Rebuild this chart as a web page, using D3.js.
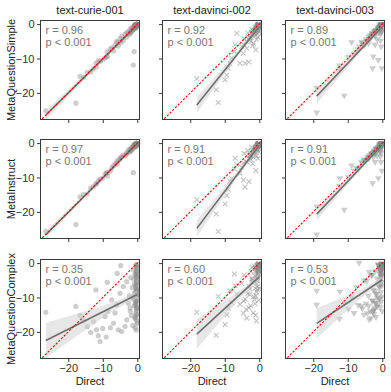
<!DOCTYPE html>
<html><head><meta charset="utf-8">
<script src="https://cdn.jsdelivr.net/npm/d3@7"></script>
<style>body{margin:0;background:#fff}svg{display:block}text{font-family:"Liberation Sans",Arial,sans-serif}</style>
</head><body><svg id="c" width="391" height="392"></svg>
<script>
const models = ["text-curie-001","text-davinci-002","text-davinci-003"];
const prompts = ["MetaQuestionSimple","MetaInstruct","MetaQuestionComplex"];
const xTicks = [-20,-10,0];
const yTicks = [0,-10,-20];
const rLabels = [["0.96","0.92","0.89"],["0.97","0.91","0.91"],["0.35","0.60","0.53"]];
const pLabel = "p < 0.001";
const xLabel = "Direct";

// text-curie-001
const curieDirect = [-26.5,-17.8,-16.6,-15.6,-12.7,-12.0,-11.8,-11.3,-10.8,-9.35,-8.7,-8.6,-7.4,-6.9,-6.45,-5.95,-5.8,-5.5,-5.0,-4.8,-4.5,-4.05,-3.55,-3.05,-3.05,-2.6,-2.3,-2.1,-1.9,-1.7,-1.5,-1.3,-1.15,-1.1,-0.9,-0.8,-0.7,-0.6,-0.5,-0.45,-0.4,-0.35,-0.3,-0.25,-0.2,-0.15,-0.1,-0.08,-0.05,-0.03,-0.6,-1.0,-1.4,-2.0,-0.2,-0.12,-0.35,-0.55,-0.75,-0.02,
 -0.05,-0.1,-0.15,-0.2,-0.25,-0.3,-0.02,-0.08,-0.12,-0.18,-0.4,-0.5,-0.6,-0.7,-0.9,-0.03,-0.06,-0.09,-0.14,-0.22,-0.28,-0.33,-0.45,-0.01,-0.04,-0.07,-0.11,-0.16,-0.24,-0.38,
 -14.5,-13.5,-10.0,-9.0,-7.8];
const curieSimple = [-25.2,-23.0,-15.2,-15.5,-13.0,-11.4,-12.4,-10.6,-10.9,-9.8,-8.1,-9.4,-6.9,-7.8,-6.2,-5.0,-5.3,-6.4,-4.2,-5.4,-3.6,-4.8,-3.0,-2.5,-3.8,-2.3,-3.0,-1.5,-2.4,-1.2,-2.0,-0.9,-11.9,-1.6,-8.0,-0.5,-1.3,-0.3,-0.9,-0.2,-0.6,-0.1,-0.4,-0.7,-0.2,-0.05,-0.3,-0.1,-0.2,-0.02,-1.0,-0.6,-1.8,-2.6,-0.5,-0.15,-0.8,-0.35,-0.15,-0.4,
 -0.1,-0.3,-0.2,-0.5,-0.15,-0.6,-0.05,-0.25,-0.4,-0.1,-0.8,-0.3,-1.1,-0.4,-1.3,-0.2,-0.1,-0.35,-0.5,-0.15,-0.7,-0.25,-0.6,-0.05,-0.3,-0.2,-0.45,-0.1,-0.55,-0.9,
 -14.0,-13.9,-10.4,-9.5,-7.3];
const curieInstruct = [-25.7,-23.7,-15.6,-15.0,-12.6,-11.8,-11.9,-11.0,-10.5,-9.0,-8.5,-9.6,-7.2,-6.6,-6.0,-5.4,-6.1,-4.9,-4.6,-4.2,-4.0,-3.5,-3.7,-2.8,-3.1,-2.0,-2.6,-1.8,-2.2,-1.4,-1.1,-1.6,-8.6,-1.0,-0.6,-1.2,-0.8,-0.4,-0.7,-0.3,-0.5,-0.2,-0.1,-0.6,-0.3,-0.1,-0.2,-0.05,-0.1,-0.1,-0.9,-0.5,-1.9,-2.4,-0.4,-0.3,-1.0,-0.2,-0.4,-0.2,
 -0.2,-0.15,-0.3,-0.4,-0.1,-0.5,-0.1,-0.2,-0.35,-0.25,-0.6,-0.7,-0.9,-0.5,-1.1,-0.1,-0.2,-0.3,-0.4,-0.3,-0.5,-0.4,-0.7,-0.1,-0.15,-0.25,-0.3,-0.2,-0.45,-0.6,
 -14.8,-13.1,-10.2,-8.7,-8.1];
const curieComplex = [-14.3,-12.6,-15.2,-16.7,-17.0,-7.8,-19.4,-21.1,-22.8,-15.5,-5.6,-14.1,-10.7,-17.5,-14.5,-12.1,-3.0,-19.4,-8.8,-0.75,-19.9,-6.8,-18.4,-16.5,-5.4,-11.7,-9.5,-13.0,-4.2,-15.3,-7.1,-18.2,-10.5,-2.0,-12.4,-6.0,-16.0,-8.3,-3.6,-14.6,-11.0,-1.2,-19.5,-9.0,-5.1,-13.7,-7.6,-0.4,-17.1,-10.2,-12.0,-4.7,-9.9,-14.0,-2.8,-6.5,-11.6,-15.8,-8.7,-3.1,
 -1.5,-4.0,-7.9,-12.8,-16.4,-2.5,-9.4,-5.8,-14.9,-0.9,-11.3,-6.9,-18.8,-3.3,-10.0,-13.1,-8.0,-2.2,-15.1,-4.4,-7.4,-12.3,-0.6,-9.1,-17.6,-5.3,-11.0,-3.9,-13.4,-6.3,
 -18.5,-20.2,-19.0,-21.5,-18.8];

// text-davinci-002
const dv2Direct = [-18.1,-12.5,-11.9,-9.9,-9.4,-9.0,-8.5,-8.0,-7.2,-7.0,-6.5,-5.6,-5.1,-4.6,-4.1,-3.6,-3.0,-2.7,-2.4,-2.1,-1.9,-1.7,-1.5,-1.3,-1.1,-1.0,-0.9,-0.8,-0.7,-0.6,-0.5,-0.45,-0.4,-0.35,-0.3,-0.25,-0.2,-0.15,-0.1,-0.08,-0.05,-0.03,-0.02,-0.6,-1.2,-2.2,-3.3,-0.15,-0.3,-4.4,
 -0.05,-0.1,-0.2,-0.3,-0.4,-0.5,-0.7,-0.9,-1.2,-1.6,-2.0,-2.5,-0.15,-0.25,-0.35,-0.6,-0.8,-1.0,-1.4,-1.8,-3.0,-3.8,-0.02,-0.08,-0.12,-0.45,-0.55,-2.8,-4.5,-1.1];
const dv2Simple = [-15.9,-19.1,-22.8,-16.2,-14.8,-12.8,-11.5,-9.9,-8.0,-6.0,-2.7,-11.4,-6.5,-8.5,-11.4,-7.0,-11.0,-4.0,-5.0,-2.5,-6.3,-5.6,-1.8,-3.4,-2.2,-7.5,-1.2,-4.5,-0.8,-2.8,-0.5,-1.5,-0.3,-3.8,-0.9,-0.2,-1.9,-0.1,-0.6,-0.05,-1.0,-0.2,-0.4,-0.3,-0.8,-1.5,-2.6,-2.4,-0.05,-4.2,
 -0.1,-0.4,-0.3,-0.8,-0.6,-1.2,-0.9,-1.5,-2.0,-2.4,-3.2,-3.6,-0.2,-0.5,-0.7,-1.0,-1.8,-1.3,-2.8,-2.1,-4.6,-5.0,-0.05,-0.3,-0.2,-0.9,-0.6,-3.9,-6.0,-1.6];
const dv2Instruct = [-16.5,-20.6,-25.7,-17.7,-15.2,-13.5,-11.2,-10.3,-7.5,-4.4,-6.2,-8.8,-7.0,-10.7,-12.8,-5.5,-11.2,-3.6,-4.8,-3.0,-6.0,-4.1,-2.2,-2.6,-1.5,-8.0,-1.0,-3.8,-0.9,-2.0,-0.6,-1.8,-0.4,-4.5,-0.7,-0.2,-1.3,-0.3,-0.5,-0.1,-0.8,-0.15,-0.3,-0.35,-1.4,-1.2,-2.2,-2.6,-0.1,-3.0,
 -0.2,-0.3,-0.5,-0.6,-0.9,-1.0,-1.2,-1.3,-1.8,-2.6,-2.9,-3.3,-0.1,-0.4,-0.8,-0.7,-1.5,-1.6,-2.3,-2.5,-4.2,-5.4,-0.1,-0.2,-0.3,-0.6,-1.1,-3.6,-5.8,-2.0];
const dv2Complex = [-14.3,-21.0,-9.7,-17.9,-15.0,-13.1,-8.0,-11.5,-3.2,-6.5,-9.0,-12.0,-5.9,-14.6,-10.5,-16.0,-13.0,-7.5,-2.4,-1.2,-5.0,-14.5,-0.8,-3.7,-1.5,-9.5,-2.1,-16.8,-0.6,-4.6,-0.8,-1.3,-6.8,-0.4,-3.2,-1.0,-10.8,-0.9,-0.5,-2.2,-2.7,-7.5,-0.3,-1.7,-11.8,-4.6,-8.9,-1.8,-0.2,-3.5,
 -0.5,-1.2,-2.0,-3.1,-0.8,-4.2,-6.0,-2.6,-7.3,-9.8,-5.5,-12.4,-0.3,-1.7,-3.8,-5.2,-8.4,-1.4,-10.6,-4.7,-6.8,-13.5,-0.2,-0.9,-2.3,-3.4,-7.7,-9.1,-11.0,-15.2];

// text-davinci-003
const dv3Direct = [-19.0,-19.0,-12.3,-12.4,-11.0,-9.8,-8.9,-7.5,-6.7,-6.0,-5.2,-4.0,-3.5,-3.0,-2.8,-2.6,-2.3,-2.0,-1.8,-1.5,-1.3,-1.15,-1.0,-0.9,-0.8,-0.7,-0.6,-0.5,-0.45,-0.4,-0.35,-0.3,-0.25,-0.2,-0.15,-0.15,-0.1,-0.08,-0.05,-0.03,-0.02,-0.5,-1.6,-3.8,-0.6,-0.3,-0.12,-2.1,
 -0.05,-0.1,-0.2,-0.3,-0.4,-0.5,-0.7,-0.9,-1.2,-1.6,-2.0,-2.5,-0.15,-0.25,-0.35,-0.6,-0.8,-1.0,-1.4,-1.8,-3.0,-3.8,-0.02,-0.08,-0.12,-0.45,-0.55,-2.8,-4.5,-1.1,
 -5.8,-5.3,-4.7,-4.3,-3.9,-3.3,-2.9,-2.4,-2.2,-1.9,-0.04,-0.06,-0.09,-0.11,-0.13,-0.18,-0.22,-0.28,-0.07,-0.01,
 -8.2,-7.0];
const dv3Simple = [-25.7,-18.6,-13.0,-12.0,-20.8,-9.5,-5.3,-8.0,-6.5,-5.1,-6.0,-5.6,-3.2,-2.8,-12.8,-9.4,-2.0,-3.5,-1.6,-4.4,-1.0,-10.4,-2.3,-0.8,-1.5,-0.5,-3.0,-0.3,-1.2,-0.2,-6.5,-0.7,-0.1,-2.0,-0.4,-12.8,-0.05,-0.9,-0.2,-1.6,-0.1,-4.8,-1.9,-4.2,-0.4,-2.5,-0.3,-6.0,
 -0.1,-0.2,-0.4,-0.5,-0.3,-0.8,-0.9,-1.1,-1.5,-1.9,-2.3,-2.8,-0.2,-0.4,-0.5,-0.7,-1.2,-1.0,-1.8,-2.2,-3.4,-4.4,-0.05,-0.15,-0.2,-0.6,-0.9,-3.1,-5.0,-1.4,
 -5.5,-6.2,-4.4,-4.8,-3.6,-3.9,-2.5,-2.9,-2.0,-2.4,-0.1,-0.05,-0.2,-0.15,-0.1,-0.3,-0.25,-0.35,-0.1,-0.02,
 -8.6,-7.4];
const dv3Instruct = [-26.6,-18.4,-10.2,-12.5,-19.4,-9.9,-6.5,-7.2,-7.0,-5.4,-4.8,-4.5,-3.8,-3.1,-11.7,-4.0,-2.5,-3.2,-1.5,-3.6,-1.2,-10.2,-1.8,-0.6,-2.0,-0.4,-2.6,-0.5,-1.0,-0.3,-5.5,-0.8,-0.2,-1.4,-0.3,-8.0,-0.1,-0.6,-0.15,-1.1,-0.05,-3.9,-2.2,-3.5,-0.2,-2.8,-0.4,-5.5,
 -0.15,-0.25,-0.3,-0.6,-0.5,-0.7,-1.0,-0.9,-1.4,-1.7,-2.4,-2.6,-0.1,-0.3,-0.6,-0.5,-1.1,-1.3,-1.6,-2.0,-3.3,-4.1,-0.05,-0.2,-0.25,-0.5,-0.8,-2.9,-4.7,-1.5,
 -5.9,-5.0,-4.9,-4.1,-4.2,-3.0,-3.2,-2.2,-2.6,-1.7,-0.05,-0.1,-0.15,-0.1,-0.2,-0.2,-0.3,-0.25,-0.05,-0.05,
 -8.0,-7.6];
const dv3Complex = [-12.1,-8.0,-8.3,-16.2,-11.5,-13.4,-10.0,-7.0,0.1,-12.5,-5.0,-9.5,-14.0,-3.5,-11.0,-7.8,-13.5,-2.2,-9.0,-4.5,-12.0,-6.2,-1.4,-10.5,-3.0,-7.0,-0.8,-12.8,-4.0,-8.5,-2.0,-1.0,-11.2,-5.5,-0.5,-9.8,-3.3,-6.5,-1.6,-14.0,-0.3,-4.8,-10.0,-2.6,-6.0,-0.6,-3.8,-8.0,
 -0.6,-1.5,-2.4,-0.9,-3.6,-1.0,-2.0,-6.8,-0.4,-8.9,-11.5,-13.8,-0.3,-1.1,-2.3,-2.8,-10.2,-0.7,-12.6,-15.7,-3.5,-16.4,-0.2,-0.8,-3.0,-1.3,-1.8,-14.2,-5.2,-0.5,
 -13.2,-15.0,-11.8,-14.6,-12.4,-16.0,-10.8,-14.8,-12.9,-11.6,-0.4,-0.2,-1.0,-0.7,-0.3,-1.4,-0.9,-0.5,-0.1,-0.6,
 -14.5,-12.2];

const directs = [curieDirect, dv2Direct, dv3Direct];
const scores = [
  [curieSimple, dv2Simple, dv3Simple],
  [curieInstruct, dv2Instruct, dv3Instruct],
  [curieComplex, dv2Complex, dv3Complex]
];

// layout
const colX = [41, 163, 286], rowY = [21, 140, 260], PW = 98, PH = 98;
const xDomain = [-27.9, 0.5], yDomain = [-27.6, 0.9];
const ptColor = "#8a8a8a";

const svg = d3.select("#c");
const defs = svg.append("defs");

function fit(xs, ys){
  const n = xs.length, mx = d3.mean(xs), my = d3.mean(ys);
  let sxx=0, sxy=0; for(let i=0;i<n;i++){sxx+=(xs[i]-mx)**2; sxy+=(xs[i]-mx)*(ys[i]-my);}
  const b = sxy/sxx, a = my - b*mx;
  let sse=0; for(let i=0;i<n;i++){sse+=(ys[i]-a-b*xs[i])**2;}
  const s = Math.sqrt(sse/(n-2));
  return {a,b,s,n,mx,sxx};
}

const crossPath = "M-2.4,-2.4L2.4,2.4M-2.4,2.4L2.4,-2.4";
const triPath = d3.symbol(d3.symbolTriangle, 20)();

for(let r=0;r<3;r++){
  for(let c=0;c<3;c++){
    const x0 = colX[c], y0 = rowY[r];
    const x = d3.scaleLinear().domain(xDomain).range([x0, x0+PW]);
    const y = d3.scaleLinear().domain(yDomain).range([y0+PH, y0]);
    const xs = directs[c], ysAll = scores[r][c];
    const n = Math.min(xs.length, ysAll.length);
    const X = xs.slice(0,n), Y = ysAll.slice(0,n);
    const id = `clip${r}${c}`;
    defs.append("clipPath").attr("id", id).append("rect").attr("x",x0).attr("y",y0).attr("width",PW).attr("height",PH);
    const g = svg.append("g").attr("clip-path",`url(#${id})`);
    const data = d3.range(n).map(i=>[X[i],Y[i]]);

    const pts = g.append("g");
    if(c===0){
      pts.selectAll("circle").data(data).join("circle")
        .attr("cx",d=>x(d[0])).attr("cy",d=>y(d[1])).attr("r",2.6)
        .attr("fill",ptColor).attr("fill-opacity",0.42);
    } else if(c===1){
      pts.selectAll("path").data(data).join("path")
        .attr("transform",d=>`translate(${x(d[0])},${y(d[1])})`).attr("d",crossPath)
        .attr("fill","none").attr("stroke",ptColor).attr("stroke-width",1.1).attr("stroke-opacity",0.5);
    } else {
      pts.selectAll("path").data(data).join("path")
        .attr("transform",d=>`translate(${x(d[0])},${y(d[1])}) rotate(180)`).attr("d",triPath)
        .attr("fill",ptColor).attr("fill-opacity",0.42);
    }

    const f = fit(X, Y);
    const [xmin, xmax] = d3.extent(X);
    const grid = d3.range(0, 61).map(i => xmin + (xmax-xmin)*i/60);
    const band = grid.map(v => {
      const yh = f.a + f.b*v;
      const h = 1.98*f.s*Math.sqrt(1/f.n + (v-f.mx)**2/f.sxx);
      return [v, yh-h, yh+h];
    });
    g.append("path").datum(band)
      .attr("d", d3.area().x(d=>x(d[0])).y0(d=>y(d[1])).y1(d=>y(d[2])))
      .attr("fill","#d0d0d0").attr("fill-opacity",0.5);
    g.append("path").datum([xmin,xmax])
      .attr("d", d3.line().x(v=>x(v)).y(v=>y(f.a+f.b*v)))
      .attr("stroke","#6e6e6e").attr("stroke-width",1.6).attr("fill","none");

    g.append("path").datum([-40, 5])
      .attr("d", d3.line().x(v=>x(v)).y(v=>y(v)))
      .attr("stroke","#ff0000").attr("stroke-width",1.1).attr("stroke-dasharray","2.2,1.6").attr("fill","none");

    svg.append("rect").attr("x",x0-0.5).attr("y",y0-0.5).attr("width",PW+1).attr("height",PH+1)
      .attr("fill","none").attr("stroke","#3a3a3a").attr("stroke-width",1);

    const ax = svg.append("g").attr("transform",`translate(0,${y0+PH+0.5})`)
      .call(d3.axisBottom(x).tickValues(xTicks).tickSize(3.5).tickPadding(2.5)
        .tickFormat(r===2 ? d3.format("d") : ()=>""));
    const ay = svg.append("g").attr("transform",`translate(${x0-0.5},0)`)
      .call(d3.axisLeft(y).tickValues(yTicks).tickSize(3.5).tickPadding(2.5)
        .tickFormat(c===0 ? d3.format("d") : ()=>""));
    [ax, ay].forEach(a => {
      a.select(".domain").remove();
      a.selectAll("line").attr("stroke","#3a3a3a");
      a.selectAll("text").attr("fill","#333").style("font-size","11px").style("font-family","'Liberation Sans',Arial,sans-serif");
    });

    svg.append("text").attr("x",x0+4.5).attr("y",y0+12.5).attr("fill","#777").style("font-size","11px")
      .text(`r = ${rLabels[r][c]}`);
    svg.append("text").attr("x",x0+4.5).attr("y",y0+25).attr("fill","#777").style("font-size","11px")
      .text(pLabel);

    if(r===0){
      svg.append("text").attr("x",x0+PW/2).attr("y",14).attr("text-anchor","middle")
        .attr("fill","#222").style("font-size","11px").text(models[c]);
    }
    if(r===2){
      svg.append("text").attr("x",x0+PW/2).attr("y",385).attr("text-anchor","middle")
        .attr("fill","#222").style("font-size","11px").text(xLabel);
    }
    if(c===0){
      svg.append("text").attr("transform",`translate(15,${y0+PH/2}) rotate(-90)`).attr("text-anchor","middle")
        .attr("fill","#222").style("font-size","11px").text(prompts[r]);
    }
  }
}
</script></body></html>
